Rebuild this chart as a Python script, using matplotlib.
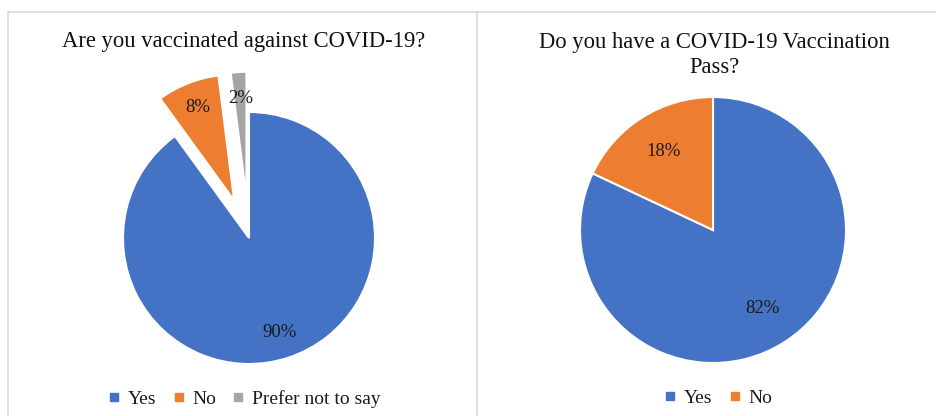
import matplotlib.pyplot as plt
from matplotlib.lines import Line2D

plt.rcParams['font.family'] = ['Liberation Serif', 'DejaVu Serif']

# data
vacc_labels = ['Yes', 'No', 'Prefer not to say']
vacc_values = [90, 8, 2]
pass_labels = ['Yes', 'No']
pass_values = [82, 18]
colors = ['#4472C4', '#ED7D31', '#A5A5A5']

W, H = 937, 416
fig = plt.figure(figsize=(W / 100, H / 100), dpi=100)

def pie_axes(cx, cy, r, lim=1.5):
    # axes box in pixels so that one data unit = r pixels
    half = lim * r
    ax = fig.add_axes([(cx - half) / W, (H - cy - half) / H, 2 * half / W, 2 * half / H])
    ax.set_aspect('equal')
    ax.axis('off')
    return ax

# left chart
ax1 = pie_axes(249, 238, 126)
ax1.pie(vacc_values, colors=colors, startangle=90, counterclock=False,
        explode=[0, 0.32, 0.32], autopct='%d%%', pctdistance=0.79,
        wedgeprops=dict(edgecolor='white', linewidth=1.5),
        textprops=dict(fontsize=13.5, color='#1a1a1a'), frame=False)
ax1.set_xlim(-1.5, 1.5)
ax1.set_ylim(-1.5, 1.5)
fig.text(244 / W, 1 - 42 / H, 'Are you vaccinated against COVID-19?',
         ha='center', va='center', fontsize=16.3, color='#111111')

# right chart
ax2 = pie_axes(713, 230, 133)
ax2.pie(pass_values, colors=colors[:2], startangle=90, counterclock=False,
        autopct='%d%%', pctdistance=0.7,
        wedgeprops=dict(edgecolor='white', linewidth=1.5),
        textprops=dict(fontsize=13.5, color='#1a1a1a'), frame=False)
ax2.set_xlim(-1.5, 1.5)
ax2.set_ylim(-1.5, 1.5)
fig.text(714 / W, 1 - 55 / H, 'Do you have a COVID-19 Vaccination\nPass?',
         ha='center', va='center', fontsize=16.3, color='#111111', linespacing=1.3)

# legends
def make_handles(labels, cols):
    return [Line2D([], [], linestyle='none', marker='s', markersize=5.5,
                   markerfacecolor=c, markeredgecolor=c, label=l)
            for l, c in zip(labels, cols)]

fig.legend(handles=make_handles(vacc_labels, colors), loc='center',
           bbox_to_anchor=(245 / W, 1 - 399 / H), ncol=3, frameon=False,
           fontsize=14, handlelength=0.5, handletextpad=0.45, columnspacing=0.9,
           labelcolor='#1a1a1a')
fig.legend(handles=make_handles(pass_labels, colors[:2]), loc='center',
           bbox_to_anchor=(719 / W, 1 - 398 / H), ncol=2, frameon=False,
           fontsize=14, handlelength=0.5, handletextpad=0.45, columnspacing=0.9,
           labelcolor='#1a1a1a')

# panel borders
line_color = '#D9D9D9'
fig.add_artist(Line2D([8 / W, 8 / W], [0, 1 - 12 / H], color=line_color, lw=1.2))
fig.add_artist(Line2D([8 / W, 1], [1 - 12 / H, 1 - 12 / H], color=line_color, lw=1.2))
fig.add_artist(Line2D([477 / W, 477 / W], [0, 1 - 12 / H], color=line_color, lw=1.2))

fig.savefig('out.png', dpi=100)
